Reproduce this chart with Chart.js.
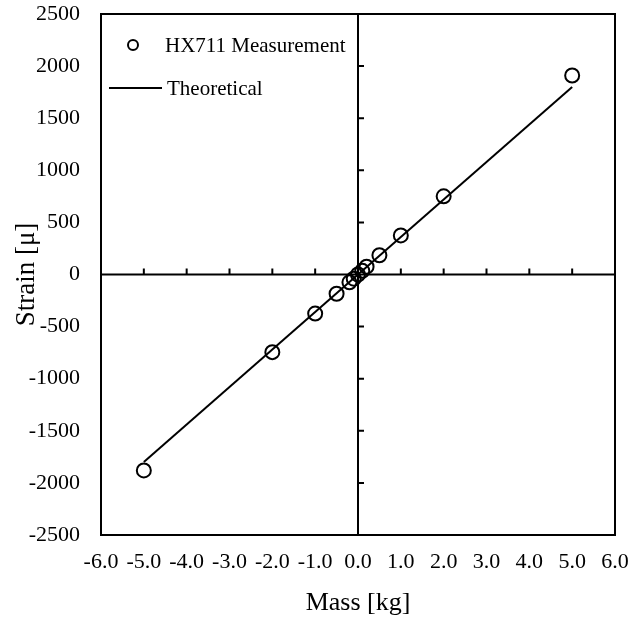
<!DOCTYPE html>
<html>
<head>
<meta charset="utf-8">
<script src="https://cdn.jsdelivr.net/npm/chart.js@4"></script>
<style>
  html, body { margin: 0; padding: 0; background: #fff; }
  #wrap { width: 631px; height: 621px; }
</style>
</head>
<body>
<div id="wrap"><canvas id="strainChart" width="631" height="621"></canvas></div>
<script>
// masses [kg] and measured strain
const masses = [-5, -2, -1, -0.5, -0.2, -0.1, 0, 0.1, 0.2, 0.5, 1, 2, 5];
const measured = [-1880, -745, -375, -185, -75, -40, 0, 35, 75, 185, 375, 750, 1910];
// theoretical line
const theoryMass = [-5, 5];
const theory = [-1800, 1800];

const xTicks = [-6, -5, -4, -3, -2, -1, 0, 1, 2, 3, 4, 5, 6];
const yTicks = [-2500, -2000, -1500, -1000, -500, 0, 500, 1000, 1500, 2000, 2500];

const labelMeasured = 'HX711 Measurement';
const labelTheory = 'Theoretical';
const xTitle = 'Mass [kg]';
const yTitle = 'Strain [μ]';

const serif = '"Liberation Serif", "Times New Roman", serif';

// box, center axes, titles and legend
const framePlugin = {
  id: 'frame',
  afterDraw(chart) {
    const { ctx, chartArea: a, scales } = chart;
    const x0 = scales.x.getPixelForValue(0);
    const y0 = scales.y.getPixelForValue(0);
    ctx.save();
    ctx.strokeStyle = '#000';
    ctx.lineWidth = 2;
    ctx.strokeRect(a.left, a.top, a.right - a.left, a.bottom - a.top);
    ctx.beginPath();
    ctx.moveTo(a.left, y0); ctx.lineTo(a.right, y0);
    ctx.moveTo(x0, a.top); ctx.lineTo(x0, a.bottom);
    xTicks.forEach(v => {
      const px = scales.x.getPixelForValue(v);
      ctx.moveTo(px, y0); ctx.lineTo(px, y0 - 6);
    });
    yTicks.forEach(v => {
      const py = scales.y.getPixelForValue(v);
      ctx.moveTo(x0, py); ctx.lineTo(x0 + 6, py);
    });
    ctx.stroke();

    // axis titles
    ctx.fillStyle = '#000';
    ctx.textAlign = 'center';
    ctx.textBaseline = 'middle';
    ctx.font = '26px ' + serif;
    ctx.fillText(xTitle, (a.left + a.right) / 2, 603);
    ctx.save();
    ctx.translate(27, y0);
    ctx.rotate(-Math.PI / 2);
    ctx.font = '27px ' + serif;
    ctx.fillText(yTitle, 0, 0);
    ctx.restore();

    // legend
    ctx.font = '21px ' + serif;
    ctx.textAlign = 'left';
    ctx.lineWidth = 2;
    ctx.beginPath();
    ctx.arc(a.left + 32, a.top + 31, 5, 0, Math.PI * 2);
    ctx.stroke();
    ctx.fillText(labelMeasured, a.left + 64, a.top + 32);
    ctx.beginPath();
    ctx.moveTo(a.left + 8, a.top + 74);
    ctx.lineTo(a.left + 61, a.top + 74);
    ctx.stroke();
    ctx.fillText(labelTheory, a.left + 66, a.top + 75);
    ctx.restore();
  }
};

new Chart(document.getElementById('strainChart'), {
  type: 'scatter',
  data: {
    datasets: [
      {
        label: labelTheory,
        data: theoryMass.map((m, i) => ({ x: m, y: theory[i] })),
        showLine: true,
        borderColor: '#000',
        borderWidth: 2,
        pointRadius: 0,
        order: 2
      },
      {
        label: labelMeasured,
        data: masses.map((m, i) => ({ x: m, y: measured[i] })),
        pointRadius: 7,
        pointBorderWidth: 2,
        pointBorderColor: '#000',
        pointBackgroundColor: 'rgba(0,0,0,0)',
        order: 1
      }
    ]
  },
  options: {
    responsive: false,
    animation: false,
    layout: { padding: { top: 14, right: 16, left: 0, bottom: 0 } },
    plugins: {
      legend: { display: false },
      tooltip: { enabled: false }
    },
    scales: {
      x: {
        type: 'linear',
        min: -6, max: 6,
        afterFit(scale) {
          scale.height = 86;
          scale.paddingLeft = 0;
          scale.paddingRight = 0;
        },
        afterBuildTicks(scale) { scale.ticks = xTicks.map(v => ({ value: v })); },
        grid: { display: false, drawTicks: false },
        border: { display: false },
        ticks: {
          color: '#000',
          padding: 14,
          maxRotation: 0,
          autoSkip: false,
          font: { family: serif, size: 22 },
          callback: v => v.toFixed(1)
        }
      },
      y: {
        type: 'linear',
        min: -2500, max: 2500,
        afterFit(scale) {
          scale.width = 101;
          scale.paddingTop = 0;
          scale.paddingBottom = 0;
        },
        afterBuildTicks(scale) { scale.ticks = yTicks.map(v => ({ value: v })); },
        grid: { display: false, drawTicks: false },
        border: { display: false },
        ticks: {
          color: '#000',
          padding: 21,
          autoSkip: false,
          font: { family: serif, size: 22 },
          callback: v => String(v)
        }
      }
    }
  },
  plugins: [framePlugin]
});
</script>
</body>
</html>
